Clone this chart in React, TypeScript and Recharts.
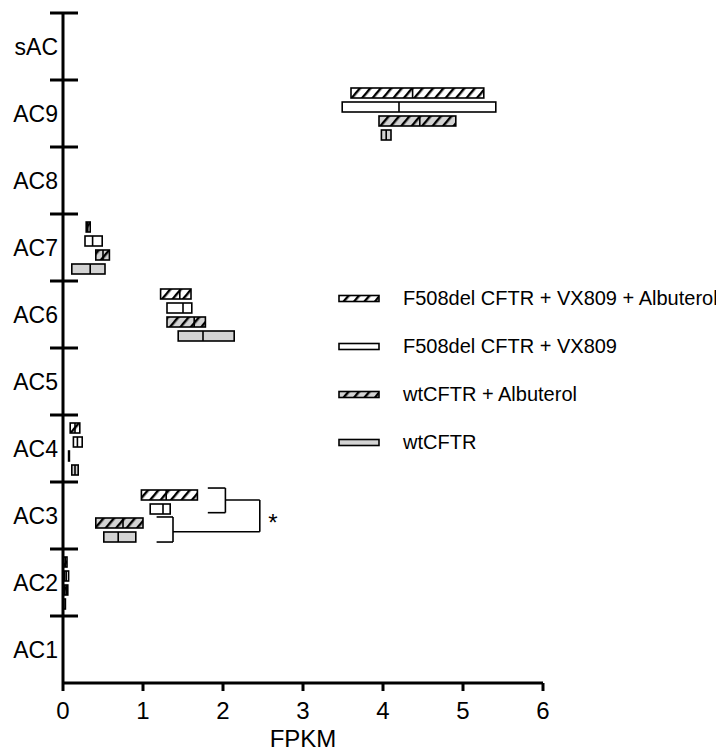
import {
  Bar,
  ComposedChart,
  Legend,
  ReferenceDot,
  ReferenceLine,
  XAxis,
  YAxis,
} from 'recharts';

const FONT = '"Liberation Sans", Arial, Helvetica, sans-serif';

// top to bottom, as drawn
const CATEGORIES = ['sAC', 'AC9', 'AC8', 'AC7', 'AC6', 'AC5', 'AC4', 'AC3', 'AC2', 'AC1'];

// [min, median, max] FPKM, null = not detected
type Box = [number, number, number] | null;

const F508_VX_ALB: Box[] = [
  null, [3.6, 4.37, 5.26], null, [0.29, 0.31, 0.34], [1.22, 1.46, 1.6],
  null, [0.09, 0.15, 0.21], [0.98, 1.29, 1.68], [0.01, 0.03, 0.05], null,
];
const F508_VX: Box[] = [
  null, [3.49, 4.2, 5.41], null, [0.275, 0.37, 0.49], [1.3, 1.5, 1.61],
  null, [0.13, 0.18, 0.24], [1.09, 1.25, 1.34], [0.02, 0.04, 0.07], null,
];
const WT_ALB: Box[] = [
  null, [3.95, 4.46, 4.91], null, [0.41, 0.5, 0.58], [1.3, 1.64, 1.78],
  null, [0.07, 0.075, 0.08], [0.41, 0.75, 1.0], [0.02, 0.04, 0.06], null,
];
const WT: Box[] = [
  null, [3.98, 4.04, 4.1], null, [0.11, 0.34, 0.525], [1.44, 1.75, 2.14],
  null, [0.11, 0.15, 0.19], [0.51, 0.69, 0.91], [0.0, 0.01, 0.03], null,
];

const X_TICKS = [0, 1, 2, 3, 4, 5, 6];
// category boundaries, counted in bands from the top (0) down
const BOUNDARIES = [0, 1, 2, 3, 4, 5, 6, 7, 8, 9];

// significance brackets beside AC3 (band 7..8), in [FPKM, band position]
const SIG_PATHS: [number, number][][] = [
  [[1.81, 7.09], [2.03, 7.09], [2.03, 7.458], [1.81, 7.458]],
  [[1.17, 7.522], [1.375, 7.522], [1.375, 7.896], [1.17, 7.896]],
  [[2.03, 7.269], [2.46, 7.269], [2.46, 7.742], [1.375, 7.742]],
];
const SIG_STAR = { x: 2.625, y: 7.604 };

const SERIES = [
  { key: 'f508VxAlb', name: 'F508del CFTR + VX809 + Albuterol', values: F508_VX_ALB, fill: 'url(#hatchWhite)' },
  { key: 'f508Vx', name: 'F508del CFTR + VX809', values: F508_VX, fill: '#ffffff' },
  { key: 'wtAlb', name: 'wtCFTR + Albuterol', values: WT_ALB, fill: 'url(#hatchGray)' },
  { key: 'wt', name: 'wtCFTR', values: WT, fill: '#d3d3d3' },
];

const data = CATEGORIES.map((name, i) => {
  const row: Record<string, any> = { name };
  for (const s of SERIES) row[s.key] = s.values[i];
  return row;
});

// in a vertical layout the second y axis is spanned over the row indexes
// (0 .. n-1), so band positions are rescaled onto that range
const FRAME_MAX = CATEGORIES.length - 1;
const toFrame = (band: number) => (band * FRAME_MAX) / CATEGORIES.length;

const FrameTick = (props: any) => {
  const { x, y } = props;
  return <line x1={x - 13} x2={x + 15} y1={y} y2={y} stroke="#000" strokeWidth={3} />;
};

function boxShape(key: string, fill: string) {
  return (props: any) => {
    const { x, y, width, height, payload } = props;
    const box: Box = payload?.[key];
    if (!box || !Number.isFinite(x) || !Number.isFinite(width)) return <g />;
    const [lo, med, hi] = box;
    const w = Math.max(width, 0.5);
    const mx = hi > lo ? x + (w * (med - lo)) / (hi - lo) : x;
    return (
      <g>
        <rect x={x} y={y} width={w} height={height} fill={fill} stroke="#000" strokeWidth={1.6} />
        <line x1={mx} x2={mx} y1={y} y2={y + height} stroke="#000" strokeWidth={1.6} />
      </g>
    );
  };
}

const LegendBox = () => (
  <div style={{ fontFamily: FONT, fontSize: 20, color: '#000' }}>
    {SERIES.map((s) => (
      <div key={s.key} style={{ height: 48, display: 'flex', alignItems: 'center' }}>
        <svg width={42} height={9} style={{ marginRight: 23, flex: 'none' }}>
          <rect x={1} y={1.5} width={40} height={6} fill={s.fill} stroke="#000" strokeWidth={1.6} />
        </svg>
        <span style={{ whiteSpace: 'nowrap' }}>{s.name}</span>
      </div>
    ))}
  </div>
);

export default function App() {
  return (
    <div style={{ fontFamily: FONT }}>
      <ComposedChart
        width={716}
        height={745}
        data={data}
        layout="vertical"
        margin={{ top: 5, right: 181, bottom: 6, left: 0 }}
        barSize={10}
        barGap={4}
      >
        <defs>
          <pattern id="hatchWhite" patternUnits="userSpaceOnUse" width={8} height={8} patternTransform="rotate(40)">
            <rect width={8} height={8} fill="#ffffff" />
            <rect width={2.4} height={8} fill="#000" />
          </pattern>
          <pattern id="hatchGray" patternUnits="userSpaceOnUse" width={8} height={8} patternTransform="rotate(40)">
            <rect width={8} height={8} fill="#d3d3d3" />
            <rect width={2.4} height={8} fill="#000" />
          </pattern>
        </defs>
        <XAxis
          type="number"
          domain={[0, 6]}
          ticks={X_TICKS}
          interval={0}
          allowDataOverflow
          height={64}
          tickSize={8}
          tickMargin={11}
          axisLine={{ stroke: '#000', strokeWidth: 3 }}
          tickLine={{ stroke: '#000', strokeWidth: 3 }}
          tick={{ fontSize: 24, fill: '#000', fontFamily: FONT }}
          label={{ value: 'FPKM', position: 'insideBottom', offset: 0, fontSize: 24, fill: '#000', fontFamily: FONT }}
        />
        <YAxis
          yAxisId="cat"
          type="category"
          dataKey="name"
          width={55}
          interval={0}
          axisLine={false}
          tickLine={false}
          tickSize={0}
          tickMargin={5}
          tick={{ fontSize: 23, fill: '#000', fontFamily: FONT }}
        />
        <YAxis
          yAxisId="frame"
          type="number"
          domain={[0, FRAME_MAX]}
          allowDataOverflow
          ticks={BOUNDARIES.map(toFrame)}
          interval={0}
          mirror
          width={1}
          tickSize={0}
          tickMargin={0}
          axisLine={{ stroke: '#000', strokeWidth: 3 }}
          tickLine={false}
          tick={FrameTick}
        />
        <Legend
          layout="vertical"
          align="center"
          verticalAlign="middle"
          wrapperStyle={{ left: 330, top: 266, width: 386 }}
          content={() => <LegendBox />}
        />
        {SERIES.map((s) => (
          <Bar
            key={s.key}
            yAxisId="cat"
            name={s.name}
            dataKey={(d: any) => (d[s.key] ? [d[s.key][0], d[s.key][2]] : null)}
            fill={s.fill}
            shape={boxShape(s.key, s.fill)}
            isAnimationActive={false}
          />
        ))}
        {SIG_PATHS.flatMap((path, pi) =>
          path.slice(1).map((pt, i) => (
            <ReferenceLine
              key={`sig-${pi}-${i}`}
              yAxisId="frame"
              segment={[
                { x: path[i][0], y: toFrame(path[i][1]) },
                { x: pt[0], y: toFrame(pt[1]) },
              ]}
              stroke="#000"
              strokeWidth={1.6}
            />
          ))
        )}
        <ReferenceDot
          yAxisId="frame"
          x={SIG_STAR.x}
          y={toFrame(SIG_STAR.y)}
          r={0}
          fill="none"
          stroke="none"
          label={{ value: '*', position: 'center', fontSize: 24, fill: '#000', fontFamily: FONT }}
        />
      </ComposedChart>
    </div>
  );
}
